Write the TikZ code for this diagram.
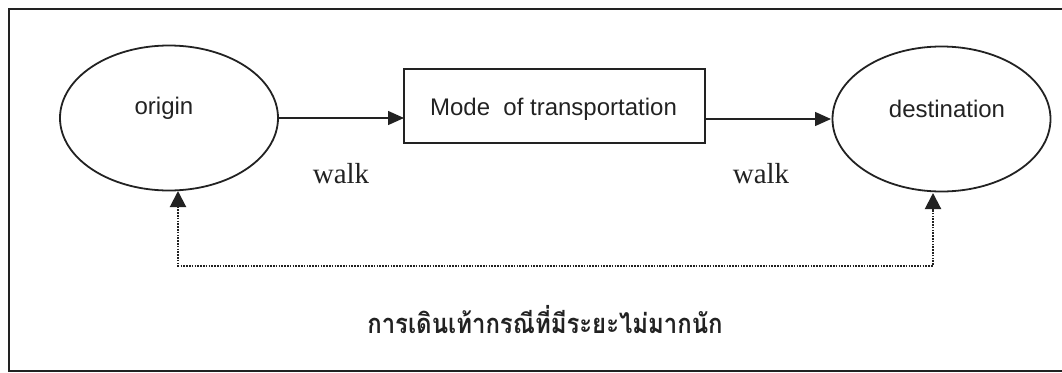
\documentclass[tikz,border=0pt]{standalone}
\usepackage{fontspec}
\setmainfont{Liberation Serif}
\setsansfont{Liberation Sans}
\newfontfamily\thaifont[Script=Thai]{Loma}
\usetikzlibrary{shapes.geometric,arrows.meta}
\definecolor{ink}{HTML}{222222}
\tikzset{
  oval/.style={draw=ink, ellipse, line width=1.8pt, minimum width=218pt, minimum height=145pt, inner sep=0pt},
  modebox/.style={draw=ink, rectangle, line width=1.5pt, minimum width=301pt, minimum height=74pt, inner sep=0pt},
  sanstext/.style={font=\sffamily\fontsize{24}{28}\selectfont, text=ink, inner sep=0pt, anchor=base},
  walktext/.style={font=\rmfamily\fontsize{29}{33}\selectfont, text=ink, inner sep=0pt, anchor=base},
  thaitext/.style={font=\thaifont\bfseries\fontsize{26}{30}\selectfont, text=ink, inner sep=0pt, anchor=base},
  flow/.style={draw=ink, line width=1.4pt, -{Triangle[length=16pt,width=14pt]}},
  backflow/.style={draw=ink, line width=2pt, dash pattern=on 1.6pt off 1.2pt, {Triangle[length=16pt,width=16pt]}-{Triangle[length=16pt,width=16pt]}},
}
\begin{document}
\begin{tikzpicture}[x=1pt,y=-1pt]
\useasboundingbox (0,0) rectangle (1062,372);
\begin{scope}
\clip (0,0) rectangle (1062,372);
\draw[draw=ink, line width=1.4pt] (9,9) rectangle (1075,371);
\end{scope}
\node[oval] (origin) at (169,118) {};
\node[oval] (dest) at (941.5,119) {};
\node[modebox] (mode) at (554.5,106) {};
\node[sanstext] (origintxt) at (164,114) {origin};
\node[sanstext] (modetxt) at (553.5,115) {Mode\ \ of transportation};
\node[sanstext] (desttxt) at (947,117) {destination};
\node[walktext] (walk1) at (341,183) {walk};
\node[walktext] (walk2) at (761,183) {walk};
\node[thaitext] (thai) at (545,333) {\scalebox{0.92}[1.05]{การเดินเท้ากรณีที่มีระยะไม่มากนัก}};
\coordinate (o1) at (278,118);
\coordinate (m1) at (404,118);
\coordinate (m2) at (705,119);
\coordinate (d1) at (831,119);
\coordinate (ob) at (178,191);
\coordinate (db) at (933,193);
\draw[flow] (o1) -- (m1);
\draw[flow] (m2) -- (d1);
\draw[backflow] (ob) -- (ob |- 0,265.5) -- (db |- 0,265.5) -- (db);
\end{tikzpicture}
\end{document}
